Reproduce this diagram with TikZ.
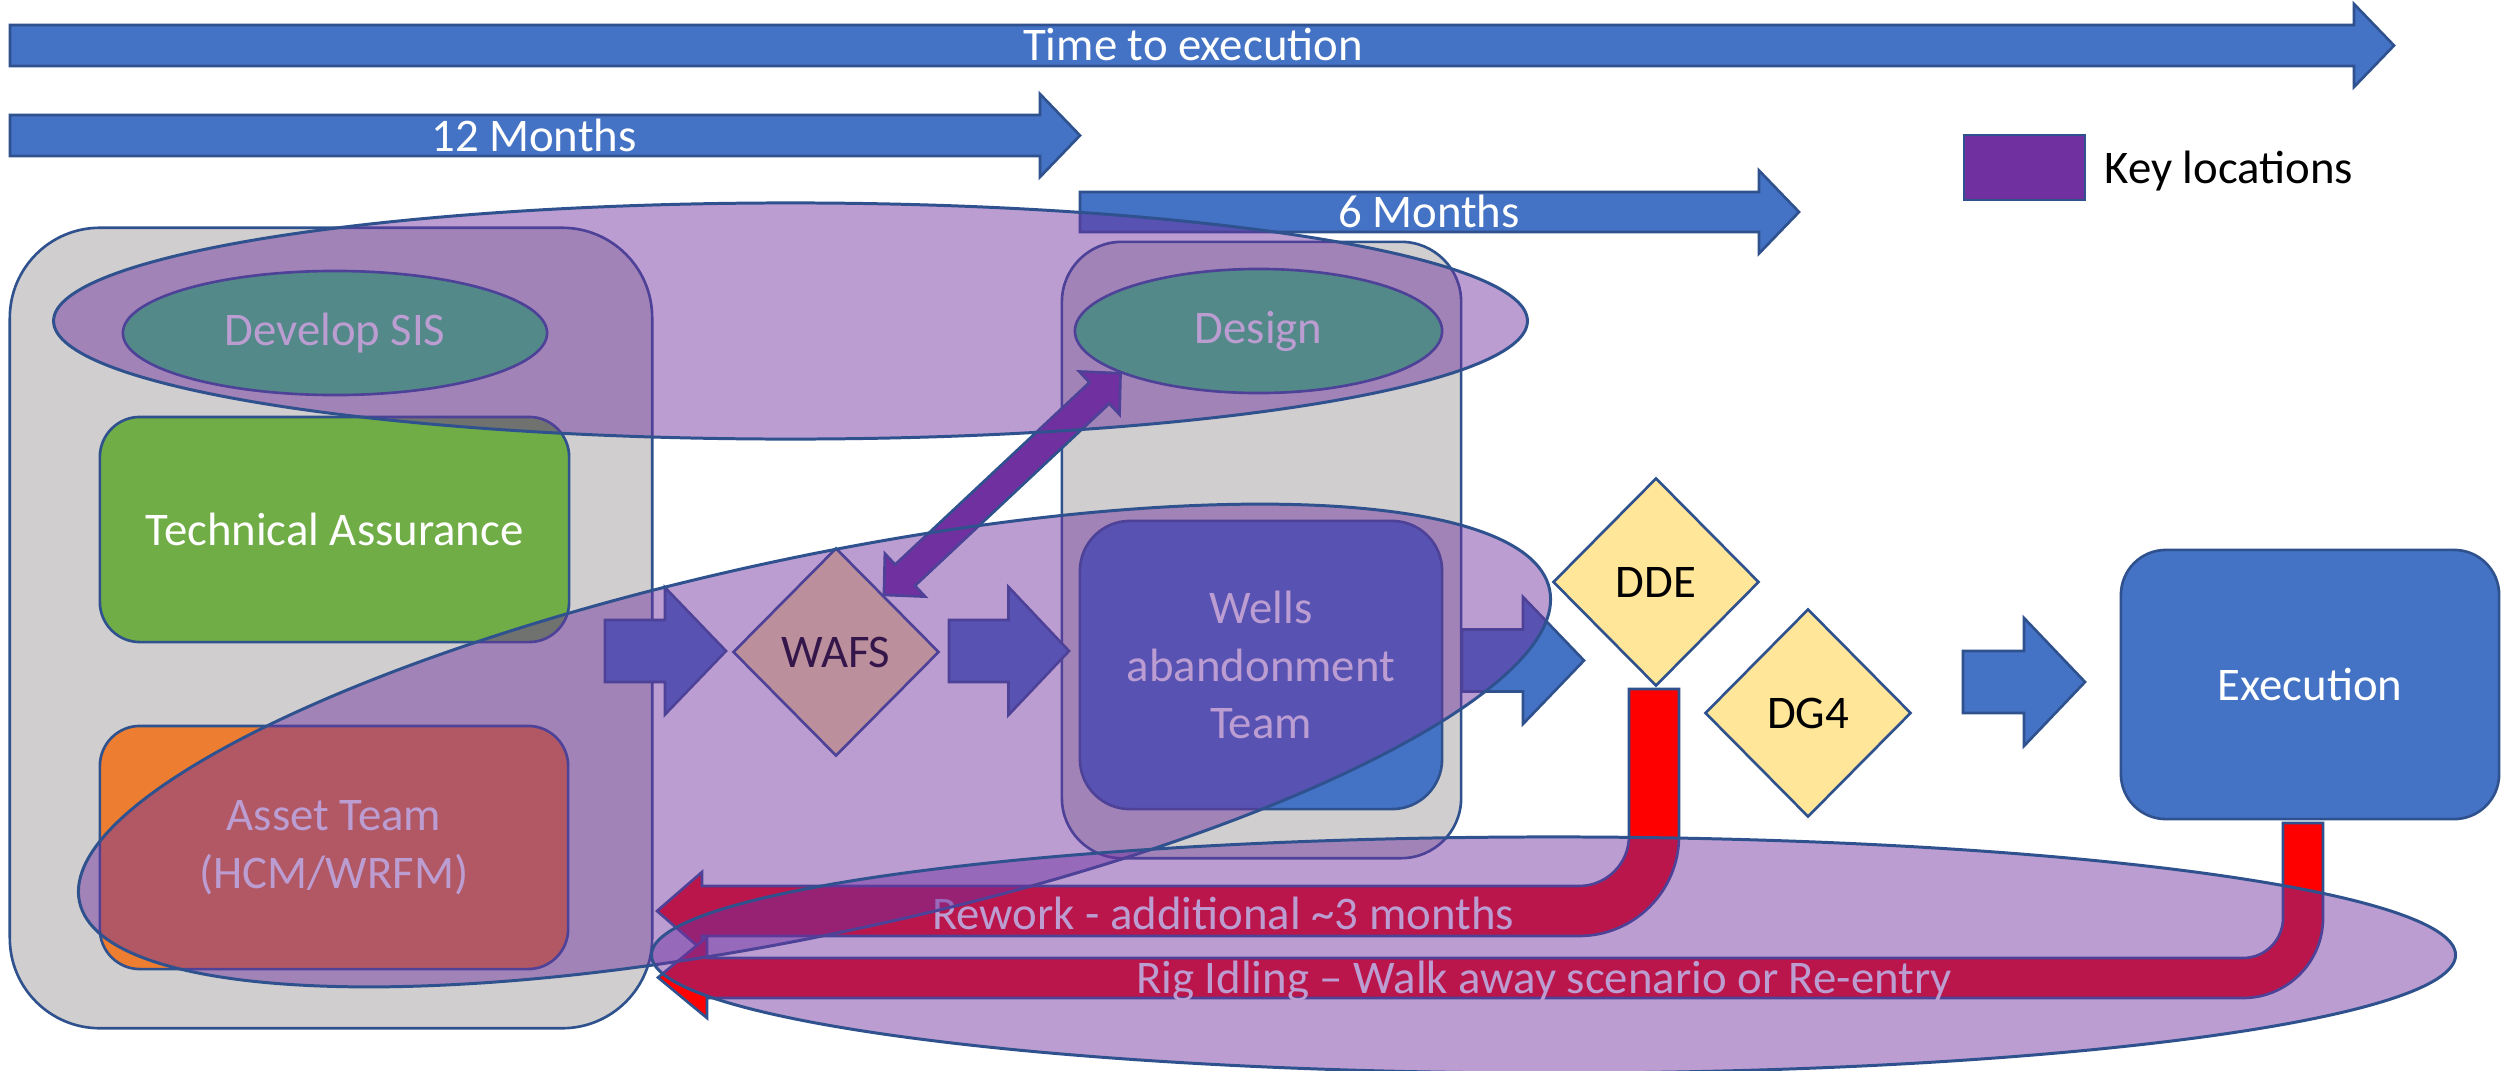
\documentclass[tikz,border=0pt]{standalone}
\usepackage{fontspec}
\setmainfont{Carlito}
\usetikzlibrary{shapes.geometric,calc}

\definecolor{lineblue}{HTML}{2F528F}
\definecolor{accblue}{HTML}{4472C4}
\definecolor{boxgrey}{HTML}{D0CECE}
\definecolor{accgreen}{HTML}{70AD47}
\definecolor{accorange}{HTML}{ED7D31}
\definecolor{gateyellow}{HTML}{FFE699}
\definecolor{keypurple}{HTML}{7030A0}
\definecolor{seagreen}{HTML}{3BDA76}
\definecolor{alarmred}{HTML}{FF0000}

% right-pointing block arrow: tail x, head-base x, tip x, centre y, half body, half head
\newcommand\blkarrow[6]{%
  \draw[blockarrow] (#1,#4-#5) -- (#2,#4-#5) -- (#2,#4-#6) -- (#3,#4)
    -- (#2,#4+#6) -- (#2,#4+#5) -- (#1,#4+#5) -- cycle;}

\begin{document}
\begin{tikzpicture}[x=0.01cm, y=-0.01cm,
  font=\fontsize{13.3pt}{16.4pt}\selectfont,
  outl/.style={draw=lineblue, line width=0.75pt},
  blockarrow/.style={outl, fill=accblue},
  greybox/.style={outl, fill=boxgrey, inner sep=0pt},
  roundbox/.style={outl, inner sep=0pt, text=white, align=center},
  oval/.style={ellipse, outl, fill=seagreen, inner sep=0pt, text=white},
  gate/.style={diamond, outl, fill=gateyellow, shape aspect=1, inner sep=0pt,
    text=black, minimum width=2.06cm, minimum height=2.08cm},
  wtext/.style={text=white, inner sep=0pt},
  keyzone/.style={ellipse, draw=lineblue, line width=0.85pt, fill=keypurple,
    fill opacity=0.47, inner sep=0pt},
  bentarrow/.style={outl, fill=alarmred}]

\useasboundingbox (0,0) rectangle (2501,1070);
\clip (0,0) rectangle (2501,1070);
\fill[white] (0,0) rectangle (2501,1070);

% timeline arrows
\blkarrow{10}{2354}{2394}{45.5}{20.5}{41.5}
\blkarrow{10}{1040}{1080}{135.5}{20.5}{41.5}
\blkarrow{1080}{1759}{1799}{212}{20}{41.5}
\node[wtext, anchor=base] (ttx) at (1193,61) {Time to execution};
\node[wtext, anchor=base] (t12) at (534,152) {12 Months};
\node[wtext, anchor=base] (t6) at (1429,228) {6 Months};

% containers
\node[greybox, minimum width=6.42cm, minimum height=8cm, rounded corners=0.9cm] (leftgrey) at (331,628) {};
\node[greybox, minimum width=3.99cm, minimum height=6.16cm, rounded corners=0.6cm] (rightgrey) at (1261.5,550) {};

% activities
\node[oval, minimum width=4.24cm, minimum height=1.24cm] (sis) at (335,333) {Develop SIS};
\node[roundbox, fill=accgreen, rounded corners=0.4cm, minimum width=4.69cm, minimum height=2.25cm] (ta) at (334.5,529.5) {Technical Assurance};
\node[roundbox, fill=accorange, rounded corners=0.4cm, minimum width=4.68cm, minimum height=2.43cm] (asset) at (334,847.5) {Asset Team\\(HCM/WRFM)};
\node[oval, minimum width=3.67cm, minimum height=1.24cm] (design) at (1258.5,331) {Design};
\node[roundbox, fill=accblue, rounded corners=0.5cm, minimum width=3.62cm, minimum height=2.88cm] (wells) at (1261,665) {Wells\\abandonment\\Team};

% flow arrows
\blkarrow{605}{665}{726}{651}{31}{63.5}
\blkarrow{949}{1008.5}{1069}{651}{31}{64}
\blkarrow{1462}{1523}{1584}{660.5}{31}{63.5}
\blkarrow{1963}{2024}{2085}{682}{31}{64}

% gates and execution
\node[gate] (wafs) at (836,652) {WAFS};
\node[gate] (dde) at (1656,582) {DDE};
\node[gate] (dg4) at (1808,713) {DG4};
\node[roundbox, fill=accblue, rounded corners=0.45cm, minimum width=3.78cm, minimum height=2.69cm] (exec) at (2310,684.5) {Execution};

% loop-back arrows
\draw[bentarrow] (657,911) -- (702,872) -- (702,886) -- (1579,886)
  .. controls (1606.6,886) and (1629,863.6) .. (1629,836) -- (1629,689) -- (1679,689) -- (1679,836)
  .. controls (1679,891.2) and (1634.2,936) .. (1579,936) -- (702,936) -- (702,950) -- cycle;
\draw[bentarrow] (658,977.5) -- (707,937) -- (707,958) -- (2243,958)
  .. controls (2265.1,958) and (2283,940.1) .. (2283,918) -- (2283,823) -- (2323,823) -- (2323,918)
  .. controls (2323,962.2) and (2287.2,998) .. (2243,998) -- (707,998) -- (707,1018) -- cycle;
\node[wtext, anchor=base] (rework) at (1223,929) {Rework - additional \textasciitilde3 months};
\node[wtext, anchor=base] (idling) at (1544,993) {Rig Idling -- Walk away scenario or Re-entry};

% two-way link between WAFS and Design
\coordinate (da1) at (wafs.50);
\coordinate (da2) at (design.197);
\coordinate (h1) at ($(da1)!0.29cm!(da2)$);
\coordinate (h2) at ($(da2)!0.29cm!(da1)$);
\draw[outl, fill=keypurple] (da1) -- ($(h1)!0.295cm!90:(da2)$) -- ($(h1)!0.145cm!90:(da2)$)
  -- ($(h2)!0.145cm!-90:(da1)$) -- ($(h2)!0.295cm!-90:(da1)$) -- (da2)
  -- ($(h2)!0.295cm!90:(da1)$) -- ($(h2)!0.145cm!90:(da1)$)
  -- ($(h1)!0.145cm!-90:(da2)$) -- ($(h1)!0.295cm!-90:(da2)$) -- cycle;

% key-location zones
\node[keyzone, minimum width=14.73cm, minimum height=2.36cm] (zoneA) at (790.5,321) {};
\node[keyzone, minimum width=15.02cm, minimum height=3.76cm, rotate=12] (zoneB) at (814.5,745.5) {};
\node[keyzone, minimum width=18.03cm, minimum height=2.36cm] (zoneC) at (1553.5,955) {};

% legend
\node[outl, fill=keypurple, minimum width=1.21cm, minimum height=0.65cm, inner sep=0pt] (keybox) at (2024.5,167.5) {};
\node[anchor=base west, inner sep=0pt, text=black] (keytext) at (2104,183) {Key locations};
\end{tikzpicture}
\end{document}
